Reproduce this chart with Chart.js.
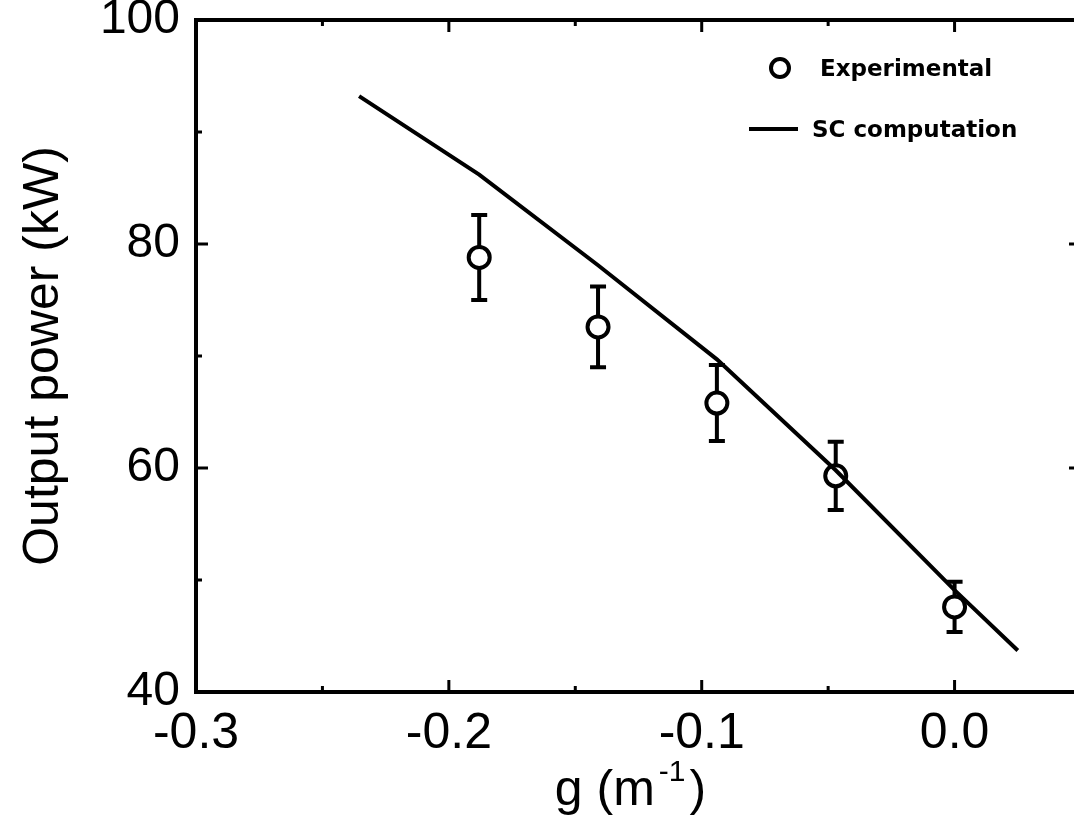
<!DOCTYPE html>
<html>
<head>
<meta charset="utf-8">
<script src="https://cdn.jsdelivr.net/npm/chart.js@4/dist/chart.umd.min.js"></script>
<style>
  html, body { margin: 0; padding: 0; background: #fff; overflow: hidden; }
  #wrap { width: 1100px; height: 820px; }
</style>
</head>
<body>
<div id="wrap"><canvas id="c" width="1100" height="820"></canvas></div>
<script>
// Measured output power versus taper parameter g
const gExp = [-0.188, -0.141, -0.094, -0.047, 0.0];
const powerExp = [78.8, 72.6, 65.8, 59.3, 47.6];
const errExp = [3.8, 3.6, 3.4, 3.05, 2.25];

// Self-consistent computation
const gSC = [-0.2355, -0.188, -0.141, -0.094, -0.047, 0.0, 0.025];
const powerSC = [93.2, 86.2, 78.1, 69.7, 59.8, 49.1, 43.7];

// Axis ticks
const xMajorTicks = [-0.3, -0.2, -0.1, 0.0];
const xMinorTicks = [-0.25, -0.15, -0.05];
const yMajorTicks = [40, 60, 80, 100];
const yMinorTicks = [50, 70, 90];

const seriesNames = ['SC computation', 'Experimental'];
const yTitleText = 'Output power (kW)';
const xTitleParts = ['g (m', '-1', ')'];

const FONT = '"Liberation Sans", Arial, sans-serif';
const LEGEND_FONT = '"DejaVu Sans", sans-serif';

// Error bars under the experimental markers
const errorBars = {
  id: 'errorBars',
  beforeDatasetsDraw(chart) {
    const { ctx, scales: { x, y } } = chart;
    ctx.save();
    ctx.strokeStyle = '#000';
    ctx.lineWidth = 4;
    ctx.lineCap = 'butt';
    gExp.forEach((g, i) => {
      const px = x.getPixelForValue(g);
      const yt = y.getPixelForValue(powerExp[i] + errExp[i]);
      const yb = y.getPixelForValue(powerExp[i] - errExp[i]);
      ctx.beginPath();
      ctx.moveTo(px, yt); ctx.lineTo(px, yb);
      ctx.moveTo(px - 8, yt); ctx.lineTo(px + 8, yt);
      ctx.moveTo(px - 8, yb); ctx.lineTo(px + 8, yb);
      ctx.stroke();
    });
    ctx.restore();
  }
};

// Boxed frame with inward ticks, x-axis title and legend
const frame = {
  id: 'frame',
  afterDraw(chart) {
    const { ctx, chartArea: a, scales: { x, y } } = chart;
    ctx.save();
    ctx.strokeStyle = '#000';
    ctx.lineWidth = 4;
    ctx.strokeRect(a.left, a.top, a.right - a.left, a.bottom - a.top);

    ctx.lineWidth = 3;
    const tickX = (v, len) => {
      const p = x.getPixelForValue(v);
      ctx.beginPath();
      ctx.moveTo(p, a.bottom); ctx.lineTo(p, a.bottom - len);
      ctx.moveTo(p, a.top); ctx.lineTo(p, a.top + len);
      ctx.stroke();
    };
    const tickY = (v, len) => {
      const p = y.getPixelForValue(v);
      ctx.beginPath();
      ctx.moveTo(a.left, p); ctx.lineTo(a.left + len, p);
      ctx.moveTo(a.right, p); ctx.lineTo(a.right - len, p);
      ctx.stroke();
    };
    xMajorTicks.forEach(v => tickX(v, 12));
    xMinorTicks.forEach(v => tickX(v, 6));
    yMajorTicks.forEach(v => tickY(v, 12));
    yMinorTicks.forEach(v => tickY(v, 6));

    // x-axis title with superscript exponent
    ctx.fillStyle = '#000';
    ctx.textBaseline = 'alphabetic';
    const big = '50px ' + FONT, small = '30px ' + FONT;
    ctx.font = big;
    const w0 = ctx.measureText(xTitleParts[0]).width;
    const w2 = ctx.measureText(xTitleParts[2]).width;
    ctx.font = small;
    const w1 = ctx.measureText(xTitleParts[1]).width;
    const gap = 4;
    const total = w0 + gap + w1 + gap + w2;
    let tx = (a.left + a.right) / 2 - total / 2 - 8;
    const base = 805;
    ctx.textAlign = 'left';
    ctx.font = big;
    ctx.fillText(xTitleParts[0], tx, base);
    tx += w0 + gap;
    ctx.font = small;
    ctx.fillText(xTitleParts[1], tx, base - 24);
    tx += w1 + gap;
    ctx.font = big;
    ctx.fillText(xTitleParts[2], tx, base);

    // legend
    const exp = chart.data.datasets[1];
    const sc = chart.data.datasets[0];
    ctx.lineWidth = 4;
    ctx.beginPath();
    ctx.arc(780, 68, 9, 0, Math.PI * 2);
    ctx.fillStyle = '#fff';
    ctx.fill();
    ctx.stroke();
    ctx.beginPath();
    ctx.moveTo(749, 129); ctx.lineTo(798, 129);
    ctx.stroke();
    ctx.fillStyle = '#000';
    ctx.font = 'bold 23px ' + LEGEND_FONT;
    ctx.textBaseline = 'middle';
    ctx.fillText(exp.label, 820, 70);
    ctx.fillText(sc.label, 812, 131);
    ctx.restore();
  }
};

new Chart(document.getElementById('c'), {
  data: {
    datasets: [
      {
        type: 'line',
        label: seriesNames[0],
        data: gSC.map((g, i) => ({ x: g, y: powerSC[i] })),
        borderColor: '#000',
        borderWidth: 4,
        pointRadius: 0,
        tension: 0,
        fill: false
      },
      {
        type: 'scatter',
        label: seriesNames[1],
        data: gExp.map((g, i) => ({ x: g, y: powerExp[i] })),
        pointStyle: 'circle',
        pointRadius: 10.5,
        pointBorderWidth: 4,
        borderColor: '#000',
        backgroundColor: '#fff',
        showLine: false
      }
    ]
  },
  options: {
    responsive: false,
    animation: false,
    layout: { padding: { left: 0, top: 20, right: 19, bottom: 0 } },
    plugins: { legend: { display: false }, tooltip: { enabled: false } },
    scales: {
      x: {
        type: 'linear',
        min: -0.3,
        max: 0.05,
        grid: { display: false, drawTicks: false },
        border: { display: false },
        afterBuildTicks: s => { s.ticks = xMajorTicks.map(v => ({ value: v })); },
        afterFit: s => { s.height = 128; s.paddingLeft = 0; s.paddingRight = 0; },
        ticks: {
          color: '#000',
          padding: 12,
          maxRotation: 0,
          autoSkip: false,
          font: { family: FONT, size: 50 },
          callback: v => Number(v).toFixed(1)
        }
      },
      y: {
        type: 'linear',
        min: 40,
        max: 100,
        grid: { display: false, drawTicks: false },
        border: { display: false },
        afterBuildTicks: s => { s.ticks = yMajorTicks.map(v => ({ value: v })); },
        afterFit: s => { s.width = 196; s.paddingTop = 0; s.paddingBottom = 0; },
        ticks: {
          color: '#000',
          padding: 16,
          font: { family: FONT, size: 48 },
          callback: v => String(v)
        },
        title: {
          display: true,
          text: yTitleText,
          color: '#000',
          padding: { top: 14, bottom: 0 },
          font: { family: FONT, size: 50 }
        }
      }
    }
  },
  plugins: [errorBars, frame]
});
</script>
</body>
</html>
